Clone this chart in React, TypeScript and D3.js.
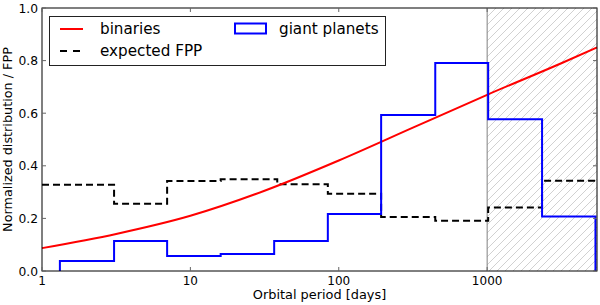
import React, { useEffect, useRef } from "react";
import * as d3 from "d3";

// giant planets histogram (step outline)
const planetEdges = [1.32, 3.06, 6.97, 16.0, 36.7, 84.4, 193, 447, 1016, 2345, 5370];
const planetHeights = [0.038, 0.114, 0.057, 0.065, 0.114, 0.217, 0.593, 0.791, 0.577, 0.207];

// expected false positive probability
const fppEdges = [1, 3.06, 6.97, 16.0, 38.5, 84.4, 193, 447, 1016, 2345, 5500];
const fppValues = [0.328, 0.256, 0.342, 0.349, 0.33, 0.294, 0.205, 0.191, 0.241, 0.343];

// binaries curve
const binPeriods = [1, 3.16, 10, 31.6, 100, 316, 1000, 3162, 5500];
const binValues = [0.087, 0.141, 0.21, 0.305, 0.42, 0.545, 0.67, 0.79, 0.85];

const xTicks = [1, 10, 100, 1000];
const yTicks = [0, 0.2, 0.4, 0.6, 0.8, 1.0];
const hatchStart = 1000;

const App = () => {
  const svgRef = useRef<SVGSVGElement>(null);

  useEffect(() => {
    document.body.style.margin = "0";
    const width = 600;
    const height = 305;
    const margin = { top: 8, right: 3, bottom: 34, left: 42 };
    const font = "DejaVu Sans, sans-serif";

    const svg = d3.select(svgRef.current);
    svg.selectAll("*").remove();
    svg.attr("width", width).attr("height", height);

    const x = d3
      .scaleLog()
      .domain([1, 5500])
      .range([margin.left, width - margin.right]);
    const y = d3
      .scaleLinear()
      .domain([0, 1])
      .range([height - margin.bottom, margin.top]);

    const [x0, x1] = x.range();
    const [y0, y1] = y.range();

    svg.append("rect").attr("width", width).attr("height", height).attr("fill", "#fff");

    // hatch pattern
    const hs = 8;
    const defs = svg.append("defs");
    const pat = defs
      .append("pattern")
      .attr("id", "hatch")
      .attr("patternUnits", "userSpaceOnUse")
      .attr("width", hs)
      .attr("height", hs);
    pat
      .append("path")
      .attr("d", `M-1,1 l2,-2 M0,${hs} l${hs},-${hs} M${hs - 1},${hs + 1} l2,-2`)
      .attr("stroke", "#bdbdbd")
      .attr("stroke-width", 0.7);

    svg
      .append("rect")
      .attr("x", x(hatchStart))
      .attr("y", y1)
      .attr("width", x1 - x(hatchStart))
      .attr("height", y0 - y1)
      .attr("fill", "url(#hatch)");
    svg
      .append("line")
      .attr("x1", x(hatchStart))
      .attr("x2", x(hatchStart))
      .attr("y1", y1)
      .attr("y2", y0)
      .attr("stroke", "#808080")
      .attr("stroke-width", 1);

    // FPP step line
    let fppPath = `M${x(fppEdges[0])},${y(fppValues[0])}`;
    fppValues.forEach((v, i) => {
      fppPath += `V${y(v)}H${x(fppEdges[i + 1])}`;
    });
    svg
      .append("path")
      .attr("d", fppPath)
      .attr("fill", "none")
      .attr("stroke", "#000")
      .attr("stroke-width", 2)
      .attr("stroke-dasharray", "7,4");

    // binaries
    const line = d3
      .line<number>()
      .x((_, i) => x(binPeriods[i]))
      .y((d) => y(d))
      .curve(d3.curveMonotoneX);
    svg
      .append("path")
      .attr("d", line(binValues))
      .attr("fill", "none")
      .attr("stroke", "#ff0000")
      .attr("stroke-width", 2);

    // planets histogram
    let histPath = `M${x(planetEdges[0])},${y(0)}`;
    planetHeights.forEach((h, i) => {
      histPath += `V${y(h)}H${x(planetEdges[i + 1])}`;
    });
    histPath += `V${y(0)}`;
    svg
      .append("path")
      .attr("d", histPath)
      .attr("fill", "none")
      .attr("stroke", "#0000ff")
      .attr("stroke-width", 2);

    // frame
    svg
      .append("rect")
      .attr("x", x0)
      .attr("y", y1)
      .attr("width", x1 - x0)
      .attr("height", y0 - y1)
      .attr("fill", "none")
      .attr("stroke", "#000")
      .attr("stroke-width", 1);

    // ticks (inward)
    const tl = 4;
    const tickG = svg.append("g").attr("stroke", "#666").attr("stroke-width", 1);
    xTicks.forEach((t) => {
      tickG.append("line").attr("x1", x(t)).attr("x2", x(t)).attr("y1", y0).attr("y2", y0 - tl);
      tickG.append("line").attr("x1", x(t)).attr("x2", x(t)).attr("y1", y1).attr("y2", y1 + tl);
    });
    yTicks.forEach((t) => {
      tickG.append("line").attr("x1", x0).attr("x2", x0 + tl).attr("y1", y(t)).attr("y2", y(t));
      tickG.append("line").attr("x1", x1).attr("x2", x1 - tl).attr("y1", y(t)).attr("y2", y(t));
    });

    svg
      .append("g")
      .selectAll("text")
      .data(xTicks)
      .join("text")
      .attr("x", (d) => x(d))
      .attr("y", y0 + 14)
      .attr("text-anchor", "middle")
      .attr("font-family", font)
      .attr("font-size", 12)
      .text((d) => String(d));

    svg
      .append("g")
      .selectAll("text")
      .data(yTicks)
      .join("text")
      .attr("x", x0 - 4)
      .attr("y", (d) => y(d))
      .attr("dy", "0.38em")
      .attr("text-anchor", "end")
      .attr("font-family", font)
      .attr("font-size", 12.3)
      .text((d) => d.toFixed(1));

    svg
      .append("text")
      .attr("x", (x0 + x1) / 2)
      .attr("y", 299)
      .attr("text-anchor", "middle")
      .attr("font-family", font)
      .attr("font-size", 12.9)
      .text("Orbital period [days]");

    svg
      .append("text")
      .attr("transform", `translate(12,${(y0 + y1) / 2}) rotate(-90)`)
      .attr("text-anchor", "middle")
      .attr("font-family", font)
      .attr("font-size", 12.8)
      .text("Normalized distribution / FPP");

    // legend
    const lg = svg.append("g");
    lg.append("rect")
      .attr("x", 49.5)
      .attr("y", 16.5)
      .attr("width", 336)
      .attr("height", 49)
      .attr("fill", "#fff")
      .attr("stroke", "#222")
      .attr("stroke-width", 1);
    lg.append("line")
      .attr("x1", 60).attr("x2", 83).attr("y1", 29).attr("y2", 29)
      .attr("stroke", "#ff0000").attr("stroke-width", 2);
    lg.append("line")
      .attr("x1", 60).attr("x2", 83).attr("y1", 51).attr("y2", 51)
      .attr("stroke", "#000").attr("stroke-width", 2).attr("stroke-dasharray", "7,6");
    lg.append("rect")
      .attr("x", 235).attr("y", 23.5).attr("width", 31).attr("height", 10)
      .attr("fill", "none").attr("stroke", "#0000ff").attr("stroke-width", 2);
    const legendText = [
      { label: "binaries", lx: 100, ly: 34 },
      { label: "expected FPP", lx: 100, ly: 56 },
      { label: "giant planets", lx: 279, ly: 34 },
    ];
    lg.selectAll("text.leg")
      .data(legendText)
      .join("text")
      .attr("class", "leg")
      .attr("x", (d) => d.lx)
      .attr("y", (d) => d.ly)
      .attr("font-family", font)
      .attr("font-size", 15.2)
      .text((d) => d.label);
  }, []);

  return <svg ref={svgRef}></svg>;
};

export default App;
